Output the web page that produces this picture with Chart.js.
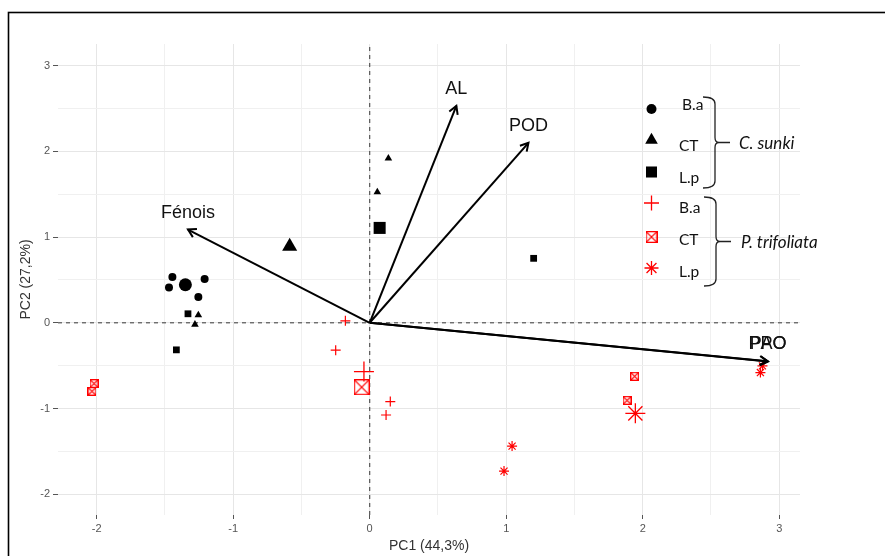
<!DOCTYPE html>
<html>
<head>
<meta charset="utf-8">
<script src="https://cdn.jsdelivr.net/npm/chart.js@4.4.1/dist/chart.umd.min.js"></script>
<style>
  html, body { margin: 0; padding: 0; background: #fff; }
</style>
</head>
<body>
<canvas id="c1" width="885" height="556"></canvas>
<script>
// axis limits and grid
const xMin = -2.283, xMax = 3.152;
const yMin = -2.243, yMax = 3.253;
const xGrid = [-2, -1.5, -1, -0.5, 0, 0.5, 1, 1.5, 2, 2.5, 3];
const yGrid = [-2, -1.5, -1, -0.5, 0, 0.5, 1, 1.5, 2, 2.5, 3];

// C. sunki samples [PC1, PC2]
const sunkiBa = [[-1.445, 0.534], [-1.470, 0.413], [-1.209, 0.511], [-1.255, 0.300]];
const sunkiCT = [[-1.255, 0.090], [-1.280, -0.020], [0.137, 1.918], [0.056, 1.524]];
const sunkiLp = [[-1.331, 0.105], [-1.416, -0.316], [1.201, 0.752]];
// P. trifoliata samples
const trifBa = [[-0.178, 0.023], [-0.249, -0.320], [0.151, -0.920], [0.120, -1.076]];
const trifCT = [[-2.019, -0.710], [-2.034, -0.799], [1.941, -0.624], [1.885, -0.905]];
const trifLp = [[1.043, -1.439], [0.984, -1.731], [2.862, -0.581], [2.877, -0.503]];
// group centroids: B.a, CT, L.p
const sunkiMean = [[-1.350, 0.444], [-0.586, 0.892], [0.073, 1.107]];
const trifMean = [[-0.042, -0.569], [-0.059, -0.752], [1.946, -1.057]];

// variable loadings (arrows)
const loadNames = ['AL', 'POD', 'Fénois', 'PPO', 'PAO'];
const loadX = [0.635, 1.163, -1.331, 2.914, 2.918];
const loadY = [2.530, 2.100, 1.088, -0.448, -0.452];

// legend
const legendLabels = ['B.a', 'CT', 'L.p', 'B.a', 'CT', 'L.p'];
const speciesNames = ['C. sunki', 'P. trifoliata'];

const RED = '#ff0000';

function boxX(size, lw) {
  const c = document.createElement('canvas');
  c.width = c.height = size;
  const g = c.getContext('2d');
  g.strokeStyle = RED;
  g.lineWidth = lw;
  const a = lw / 2, b = size - lw / 2;
  g.strokeRect(a, a, b - a, b - a);
  g.beginPath();
  g.moveTo(a, a); g.lineTo(b, b);
  g.moveTo(b, a); g.lineTo(a, b);
  g.stroke();
  return c;
}
const boxSmall = boxX(9, 1.3);
const boxBig = boxX(16, 1.3);
const boxLegend = boxX(12, 1.3);

function pts(arr) {
  return arr.map(p => ({ x: p[0], y: p[1] }));
}

function pointSet(arr, style, radius, color, bw) {
  return {
    data: pts(arr),
    pointStyle: style,
    pointRadius: radius,
    pointBackgroundColor: color,
    pointBorderColor: color,
    pointBorderWidth: bw,
    order: 2
  };
}

const datasets = [
  { data: [{ x: 0, y: yMin }, { x: 0, y: yMax }], showLine: true, borderColor: '#555', borderWidth: 1.2, borderDash: [4, 4], pointRadius: 0, order: 9 },
  { data: [{ x: xMin, y: 0 }, { x: xMax, y: 0 }], showLine: true, borderColor: '#555', borderWidth: 1.2, borderDash: [4, 4], pointRadius: 0, order: 9 },
  pointSet(sunkiBa, 'circle', 4, '#000', 0),
  pointSet(sunkiCT, 'triangle', 4.4, '#000', 0),
  pointSet(sunkiLp, 'rect', 4.8, '#000', 0),
  pointSet(trifBa, 'cross', 5, RED, 1.2),
  pointSet(trifCT, boxSmall, 5, RED, 1),
  pointSet(trifLp, 'star', 5, RED, 1.2),
  pointSet([sunkiMean[0]], 'circle', 6.5, '#000', 0),
  pointSet([sunkiMean[1]], 'triangle', 8.7, '#000', 0),
  pointSet([sunkiMean[2]], 'rect', 8.5, '#000', 0),
  pointSet([trifMean[0]], 'cross', 10, RED, 1.3),
  pointSet([trifMean[1]], boxBig, 8, RED, 1),
  pointSet([trifMean[2]], 'star', 10, RED, 1.3)
];
loadNames.forEach((n, i) => {
  datasets.push({
    data: [{ x: 0, y: 0 }, { x: loadX[i], y: loadY[i] }],
    showLine: true, borderColor: '#000', borderWidth: 2, pointRadius: 0, order: 1
  });
});

function drawBrace(ctx, x, y1, y2, tip) {
  const ym = (y1 + y2) / 2;
  ctx.beginPath();
  ctx.moveTo(x - 12, y1);
  ctx.quadraticCurveTo(x, y1, x, y1 + 7);
  ctx.lineTo(x, ym - 5);
  ctx.quadraticCurveTo(x, ym, x + 4, ym);
  ctx.lineTo(x + tip, ym);
  ctx.moveTo(x + 4, ym);
  ctx.quadraticCurveTo(x, ym, x, ym + 5);
  ctx.lineTo(x, y2 - 7);
  ctx.quadraticCurveTo(x, y2, x - 12, y2);
  ctx.stroke();
}

const extras = {
  id: 'extras',
  beforeDraw(chart) {
    const ctx = chart.ctx;
    ctx.save();
    ctx.strokeStyle = '#000';
    ctx.lineWidth = 1.6;
    ctx.strokeRect(8.5, 12.5, 1000, 1000);
    ctx.restore();
  },
  afterDatasetsDraw(chart) {
    const ctx = chart.ctx;
    const sx = chart.scales.x, sy = chart.scales.y;
    const ox = sx.getPixelForValue(0), oy = sy.getPixelForValue(0);
    ctx.save();
    // arrow heads and variable names
    ctx.strokeStyle = '#000';
    ctx.lineWidth = 2;
    ctx.font = '18px "Liberation Sans", Arial, sans-serif';
    ctx.fillStyle = '#111';
    ctx.textAlign = 'center';
    ctx.textBaseline = 'middle';
    loadNames.forEach((n, i) => {
      const tx = sx.getPixelForValue(loadX[i]), ty = sy.getPixelForValue(loadY[i]);
      const ang = Math.atan2(ty - oy, tx - ox);
      const L = 9, spread = Math.PI / 6;
      ctx.beginPath();
      ctx.moveTo(tx - L * Math.cos(ang - spread), ty - L * Math.sin(ang - spread));
      ctx.lineTo(tx, ty);
      ctx.lineTo(tx - L * Math.cos(ang + spread), ty - L * Math.sin(ang + spread));
      ctx.stroke();
      ctx.fillText(n, tx, ty - 17);
    });

    // legend
    const symX = 651.5;
    const symY = [109, 140, 172, 203, 237, 268];
    const txtX = [682, 679, 679, 679, 679, 679];
    const txtY = [105, 146, 178, 208, 240, 272];
    const styles = [
      { pointStyle: 'circle', radius: 5, c: '#000' },
      { pointStyle: 'triangle', radius: 7.3, c: '#000' },
      { pointStyle: 'rect', radius: 7.8, c: '#000' },
      { pointStyle: 'cross', radius: 7.5, c: RED },
      { pointStyle: boxLegend, radius: 6, c: RED },
      { pointStyle: 'star', radius: 7, c: RED }
    ];
    ctx.font = '15.5px Lato, sans-serif';
    ctx.textAlign = 'left';
    styles.forEach((s, i) => {
      ctx.fillStyle = s.c;
      ctx.strokeStyle = s.c;
      ctx.lineWidth = 1.3;
      Chart.helpers.drawPoint(ctx, { pointStyle: s.pointStyle, radius: s.radius, rotation: 0, borderWidth: i < 3 ? 0 : 1.3 }, symX, symY[i]);
      ctx.fillStyle = '#111';
      ctx.fillText(legendLabels[i], txtX[i], txtY[i]);
    });
    ctx.strokeStyle = '#222';
    ctx.lineWidth = 1.3;
    drawBrace(ctx, 715, 97, 188, 15);
    drawBrace(ctx, 716, 197, 286, 15);
    ctx.fillStyle = '#111';
    ctx.font = 'italic 17px Lato, sans-serif';
    ctx.fillText(speciesNames[0], 739, 144);
    ctx.fillText(speciesNames[1], 741, 243);
    ctx.restore();
  }
};

function integerOnly(v) {
  return Number.isInteger(v) ? String(v) : '';
}

new Chart(document.getElementById('c1'), {
  type: 'scatter',
  data: { datasets: datasets },
  options: {
    responsive: false,
    animation: false,
    events: [],
    layout: { padding: { left: 0, right: 85, top: 44, bottom: 0 } },
    plugins: { legend: { display: false }, tooltip: { enabled: false } },
    scales: {
      x: {
        type: 'linear', min: xMin, max: xMax,
        afterBuildTicks: s => { s.ticks = xGrid.map(v => ({ value: v })); },
        afterFit: s => { s.height = 41; },
        grid: {
          color: c => Number.isInteger(c.tick.value) ? '#e6e6e6' : '#f0f0f0',
          lineWidth: 1,
          tickLength: 4,
          tickColor: c => Number.isInteger(c.tick.value) ? '#555' : 'rgba(0,0,0,0)'
        },
        border: { display: false },
        ticks: { callback: integerOnly, color: '#555', padding: 3, maxRotation: 0, autoSkip: false,
          font: { size: 11, family: '"Liberation Sans", Arial, sans-serif' } },
        title: { display: true, text: 'PC1 (44,3%)', color: '#333', padding: { top: 0, bottom: 1 },
          font: { size: 14, family: '"Liberation Sans", Arial, sans-serif' } }
      },
      y: {
        type: 'linear', min: yMin, max: yMax,
        afterBuildTicks: s => { s.ticks = yGrid.map(v => ({ value: v })); },
        afterFit: s => { s.width = 58; },
        grid: {
          color: c => Number.isInteger(c.tick.value) ? '#e6e6e6' : '#f0f0f0',
          lineWidth: 1,
          tickLength: 5,
          tickColor: c => Number.isInteger(c.tick.value) ? '#555' : 'rgba(0,0,0,0)'
        },
        border: { display: false },
        ticks: { callback: integerOnly, color: '#555', padding: 3, autoSkip: false,
          font: { size: 11, family: '"Liberation Sans", Arial, sans-serif' } },
        title: { display: true, text: 'PC2 (27,2%)', color: '#333', padding: { top: 18, bottom: 0 },
          font: { size: 14, family: '"Liberation Sans", Arial, sans-serif' } }
      }
    }
  },
  plugins: [extras]
});
</script>
</body>
</html>
